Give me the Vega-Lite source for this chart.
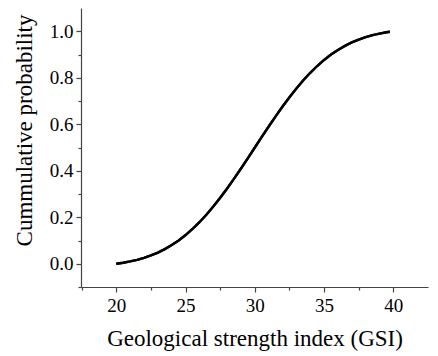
{
  "$schema": "https://vega.github.io/schema/vega-lite/v6.json",
  "width": 347,
  "height": 279,
  "autosize": {"type": "none"},
  "padding": {"left": 81, "top": 8, "right": 10, "bottom": 69},
  "background": "white",
  "config": {
    "view": {"stroke": null},
    "font": "Liberation Serif",
    "axis": {
      "grid": false,
      "domainColor": "#444",
      "tickColor": "#444",
      "labelColor": "black",
      "titleColor": "black",
      "labelFont": "Liberation Serif",
      "titleFont": "Liberation Serif",
      "labelFontSize": 19,
      "titleFontSize": 23,
      "titleFontWeight": "normal",
      "domainWidth": 1.2,
      "tickWidth": 1.2
    }
  },
  "data": {
    "values": [
      {"gsi": 20, "p": 0},
      {"gsi": 20.5, "p": 0.0044},
      {"gsi": 21, "p": 0.0099},
      {"gsi": 21.5, "p": 0.0168},
      {"gsi": 22, "p": 0.0252},
      {"gsi": 22.5, "p": 0.0356},
      {"gsi": 23, "p": 0.048},
      {"gsi": 23.5, "p": 0.0628},
      {"gsi": 24, "p": 0.0802},
      {"gsi": 24.5, "p": 0.1003},
      {"gsi": 25, "p": 0.1234},
      {"gsi": 25.5, "p": 0.1495},
      {"gsi": 26, "p": 0.1786},
      {"gsi": 26.5, "p": 0.2108},
      {"gsi": 27, "p": 0.2458},
      {"gsi": 27.5, "p": 0.2836},
      {"gsi": 28, "p": 0.3238},
      {"gsi": 28.5, "p": 0.3659},
      {"gsi": 29, "p": 0.4097},
      {"gsi": 29.5, "p": 0.4546},
      {"gsi": 30, "p": 0.5},
      {"gsi": 30.5, "p": 0.5454},
      {"gsi": 31, "p": 0.5903},
      {"gsi": 31.5, "p": 0.6341},
      {"gsi": 32, "p": 0.6762},
      {"gsi": 32.5, "p": 0.7164},
      {"gsi": 33, "p": 0.7542},
      {"gsi": 33.5, "p": 0.7892},
      {"gsi": 34, "p": 0.8214},
      {"gsi": 34.5, "p": 0.8505},
      {"gsi": 35, "p": 0.8766},
      {"gsi": 35.5, "p": 0.8997},
      {"gsi": 36, "p": 0.9198},
      {"gsi": 36.5, "p": 0.9372},
      {"gsi": 37, "p": 0.952},
      {"gsi": 37.5, "p": 0.9644},
      {"gsi": 38, "p": 0.9748},
      {"gsi": 38.5, "p": 0.9832},
      {"gsi": 39, "p": 0.9901},
      {"gsi": 39.5, "p": 0.9956},
      {"gsi": 39.75, "p": 0.998}
    ]
  },
  "layer": [
    {
      "mark": {"type": "line", "color": "black", "strokeWidth": 2.4},
      "encoding": {
        "x": {
          "field": "gsi", "type": "quantitative",
          "scale": {"domain": [17.45, 42.5], "nice": false, "zero": false},
          "axis": {
            "orient": "bottom",
            "values": [20, 25, 30, 35, 40],
            "format": "d",
            "tickSize": 5,
            "labelPadding": 4,
            "title": "Geological strength index (GSI)",
            "titlePadding": 12
          }
        },
        "y": {
          "field": "p", "type": "quantitative",
          "scale": {"domain": [-0.1, 1.1], "nice": false, "zero": false},
          "axis": {
            "orient": "left",
            "values": [0, 0.2, 0.4, 0.6, 0.8, 1.0],
            "format": ".1f",
            "tickSize": 5,
            "labelPadding": 3,
            "title": "Cummulative probability",
            "titlePadding": 13,
            "titleY": 122
          }
        }
      }
    },
    {
      "mark": {"type": "line", "color": "black", "strokeWidth": 2.4},
      "encoding": {
        "x": {
          "field": "gsi", "type": "quantitative",
          "axis": {
            "orient": "bottom",
            "values": [17.5, 22.5, 27.5, 32.5, 37.5],
            "tickSize": 3,
            "labels": false,
            "domain": false,
            "title": null
          }
        },
        "y": {
          "field": "p", "type": "quantitative",
          "axis": {
            "orient": "left",
            "values": [-0.1, 0.1, 0.3, 0.5, 0.7, 0.9],
            "tickSize": 3,
            "labels": false,
            "domain": false,
            "title": null
          }
        }
      }
    }
  ],
  "resolve": {"axis": {"x": "independent", "y": "independent"}}
}
